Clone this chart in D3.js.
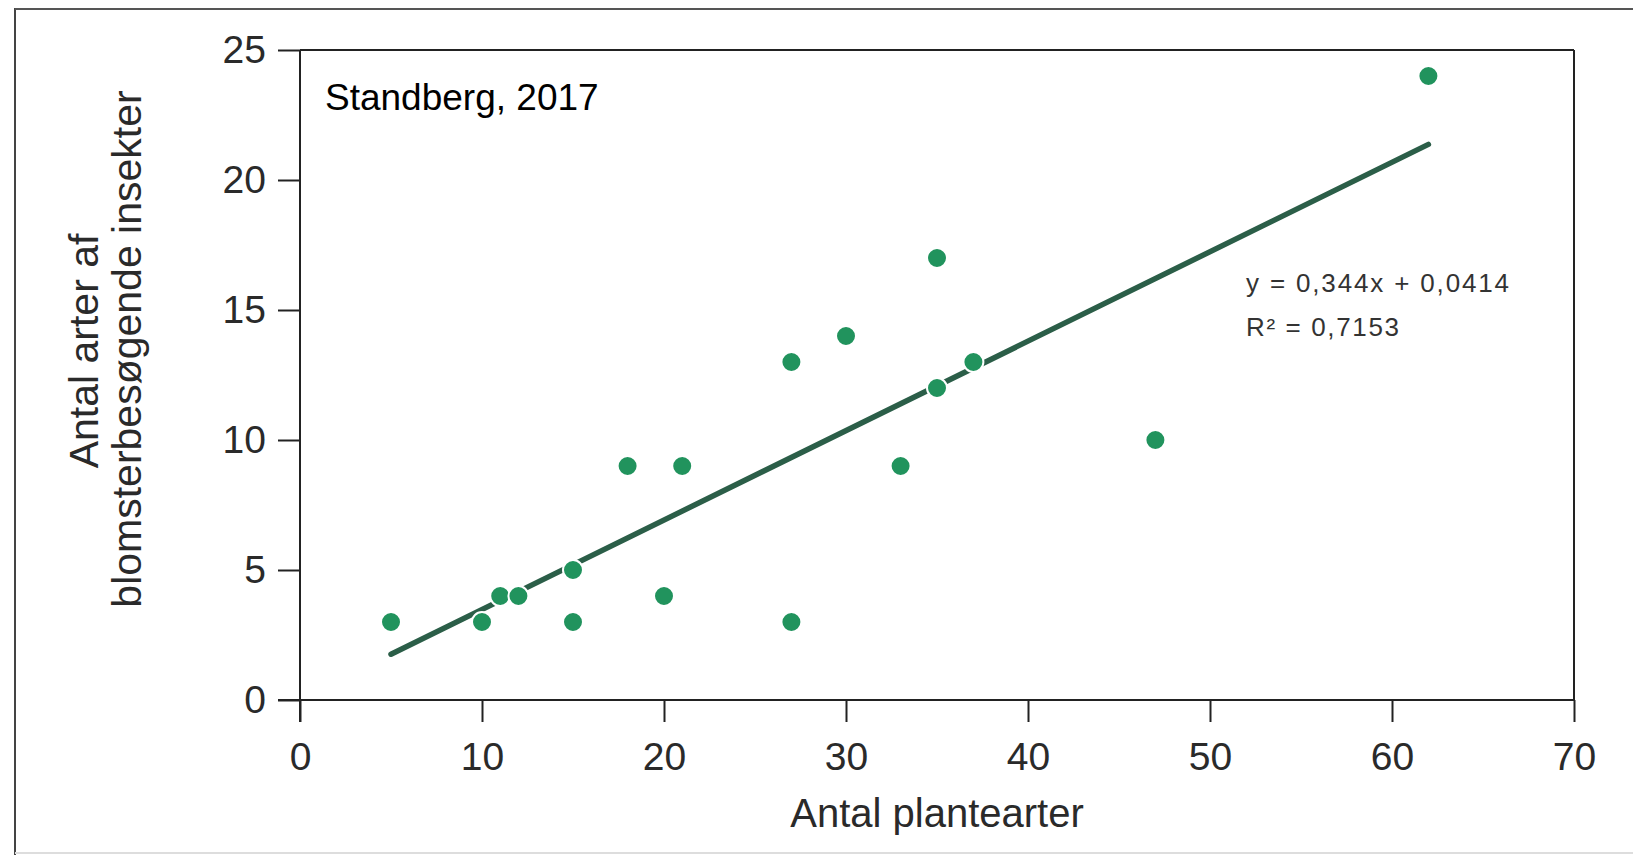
<!DOCTYPE html>
<html>
<head>
<meta charset="utf-8">
<script src="https://cdn.jsdelivr.net/npm/d3@7"></script>
<style>
  html, body { margin: 0; padding: 0; background: #fff; }
  svg { display: block; }
</style>
</head>
<body>
<svg id="chart" width="1633" height="858"></svg>
<script>
// ---- data ----
const plantSpecies = [5, 10, 11, 12, 15, 15, 18, 20, 21, 27, 27, 30, 33, 35, 35, 37, 47, 62];
const insectSpecies = [3, 3, 4, 4, 5, 3, 9, 4, 9, 13, 3, 14, 9, 17, 12, 13, 10, 24];
const xTicks = [0, 10, 20, 30, 40, 50, 60, 70];
const yTicks = [0, 5, 10, 15, 20, 25];
const trendSlope = 0.344;
const trendIntercept = 0.0414;
const trendRange = [5, 62];
const equationLines = ["y = 0,344x + 0,0414", "R\u00B2 = 0,7153"];
const xTitle = "Antal plantearter";
const yTitleLines = ["Antal arter af", "blomsterbesøgende insekter"];
const sourceNote = "Standberg, 2017";

// ---- layout ----
const svg = d3.select("#chart");
const font = "Arial, 'Liberation Sans', sans-serif";
const x = d3.scaleLinear().domain([0, 70]).range([300, 1574]);
const y = d3.scaleLinear().domain([0, 25]).range([700, 50]);

// outer frame (scanned border)
svg.append("line").attr("x1", 15).attr("y1", 8).attr("x2", 15).attr("y2", 855)
  .attr("stroke", "#444").attr("stroke-width", 2);
svg.append("line").attr("x1", 15).attr("y1", 9).attr("x2", 1633).attr("y2", 9)
  .attr("stroke", "#555").attr("stroke-width", 2);
svg.append("line").attr("x1", 15).attr("y1", 853).attr("x2", 1633).attr("y2", 853)
  .attr("stroke", "#ddd").attr("stroke-width", 2);

// plot frame top and right
svg.append("line").attr("x1", x(0)).attr("y1", y(25)).attr("x2", x(70)).attr("y2", y(25))
  .attr("stroke", "#222").attr("stroke-width", 2);
svg.append("line").attr("x1", x(70)).attr("y1", y(25)).attr("x2", x(70)).attr("y2", y(0))
  .attr("stroke", "#222").attr("stroke-width", 2);

// axes
const yAxis = svg.append("g").attr("transform", `translate(${x(0)},0)`)
  .call(d3.axisLeft(y).tickValues(yTicks).tickSize(22).tickPadding(12).tickFormat(d3.format("d")));
const xAxis = svg.append("g").attr("transform", `translate(0,${y(0)})`)
  .call(d3.axisBottom(x).tickValues(xTicks).tickSize(22).tickPadding(20).tickFormat(d3.format("d")));
[yAxis, xAxis].forEach(g => {
  g.select(".domain").attr("stroke", "#222").attr("stroke-width", 2);
  g.selectAll(".tick line").attr("stroke", "#222").attr("stroke-width", 2);
  g.selectAll(".tick text").attr("font-family", font).attr("font-size", 39).attr("fill", "#2a2a2a");
});
// extend axis lines to tick extents (as in original)
yAxis.select(".domain").attr("d", `M0,${y(25)}V${y(0) + 22}`);
xAxis.select(".domain").attr("d", `M${x(0) - 22},0H${x(70)}`);

// trend line
svg.append("line")
  .attr("x1", x(trendRange[0])).attr("y1", y(trendSlope * trendRange[0] + trendIntercept))
  .attr("x2", x(trendRange[1])).attr("y2", y(trendSlope * trendRange[1] + trendIntercept))
  .attr("stroke", "#2b5e48").attr("stroke-width", 5.5).attr("stroke-linecap", "round");

// points
svg.append("g").selectAll("circle")
  .data(plantSpecies.map((v, i) => [v, insectSpecies[i]]))
  .join("circle")
  .attr("cx", d => x(d[0])).attr("cy", d => y(d[1]))
  .attr("r", 10)
  .attr("fill", "#21935d")
  .attr("stroke", "#ffffff").attr("stroke-width", 2);

// equation annotation
svg.append("text").attr("x", 1246).attr("y", 292)
  .attr("font-family", font).attr("font-size", 26).attr("fill", "#333")
  .attr("textLength", 263).attr("lengthAdjust", "spacing")
  .text(equationLines[0]);
svg.append("text").attr("x", 1246).attr("y", 336)
  .attr("font-family", font).attr("font-size", 26).attr("fill", "#333")
  .attr("textLength", 153).attr("lengthAdjust", "spacing")
  .text(equationLines[1]);

// source note
svg.append("text").attr("x", 325).attr("y", 110)
  .attr("font-family", font).attr("font-size", 37).attr("fill", "#000")
  .text(sourceNote);

// axis titles
svg.append("text").attr("x", (x(0) + x(70)) / 2).attr("y", 827)
  .attr("text-anchor", "middle")
  .attr("font-family", font).attr("font-size", 40).attr("fill", "#2a2a2a")
  .text(xTitle);

const yTitle = svg.append("g");
yTitle.append("text").attr("transform", "translate(98,351) rotate(-90)")
  .attr("text-anchor", "middle")
  .attr("font-family", font).attr("font-size", 41).attr("fill", "#2a2a2a")
  .text(yTitleLines[0]);
yTitle.append("text").attr("transform", "translate(141,349) rotate(-90)")
  .attr("text-anchor", "middle")
  .attr("font-family", font).attr("font-size", 41).attr("fill", "#2a2a2a")
  .text(yTitleLines[1]);
</script>
</body>
</html>
